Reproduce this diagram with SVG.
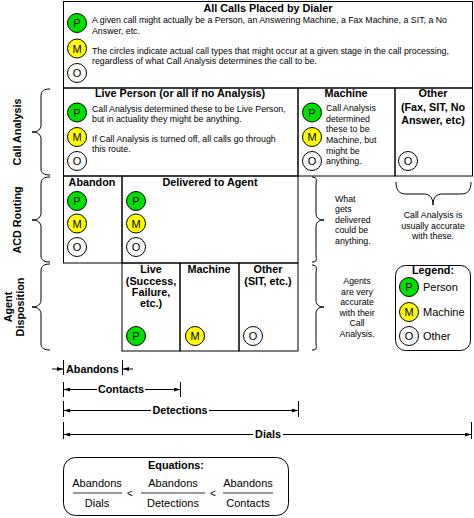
<svg xmlns="http://www.w3.org/2000/svg" width="474" height="518" viewBox="0 0 474 518">
<defs>
<style>
text{font-family:"Liberation Sans",Arial,sans-serif;fill:#000}
.b{font-weight:bold;font-size:10.8px}
.s{font-size:8.8px}
.c{font-size:11px;text-anchor:middle}
.m{text-anchor:middle}
.box{fill:none;stroke:#000;stroke-width:1}
.brace{fill:none;stroke:#000;stroke-width:1}
.cp{fill:#00e000;stroke:#000;stroke-width:1}
.cm{fill:#ffff00;stroke:#000;stroke-width:1}
.co{fill:#fff;stroke:#000;stroke-width:1}
.dim{stroke:#000;stroke-width:1;fill:none}
.frac{stroke:#999;stroke-width:2}
</style>
<marker id="ah" markerWidth="6" markerHeight="4" refX="6" refY="2" orient="auto" markerUnits="userSpaceOnUse">
<path d="M0,0 L6,2 L0,4 z" fill="#000"/>
</marker>
</defs>
<rect width="474" height="518" fill="#fff"/>

<g id="all-calls">
<rect class="box" x="63.5" y="1.5" width="409" height="86.5"/>
<text class="b m" x="268" y="12">All Calls Placed by Dialer</text>
<circle class="cp" cx="77" cy="23" r="9.5"/><text class="c" x="77" y="27">P</text>
<circle class="cm" cx="77" cy="48.5" r="9.5"/><text class="c" x="77" y="52.5">M</text>
<circle class="co" cx="77" cy="73" r="9.5"/><text class="c" x="77" y="77">O</text>
<text class="s" x="92" y="23.2">A given call might actually be a Person, an Answering Machine, a Fax Machine, a SIT, a No</text>
<text class="s" x="92" y="34.2">Answer, etc.</text>
<text class="s" x="92" y="54.2">The circles indicate actual call types that might occur at a given stage in the call processing,</text>
<text class="s" x="92" y="64.2">regardless of what Call Analysis determines the call to be.</text>
</g>

<g id="live-person">
<rect class="box" x="63.5" y="88" width="234.5" height="88"/>
<text class="b m" x="180" y="97">Live Person (or all if no Analysis)</text>
<circle class="cp" cx="77" cy="112.5" r="9.5"/><text class="c" x="77" y="116.5">P</text>
<circle class="cm" cx="77" cy="137" r="9.5"/><text class="c" x="77" y="141">M</text>
<circle class="co" cx="77" cy="161" r="9.5"/><text class="c" x="77" y="165">O</text>
<text class="s" x="92" y="111.5">Call Analysis determined these to be Live Person,</text>
<text class="s" x="92" y="121.5">but in actuality they might be anything.</text>
<text class="s" x="92" y="141.5">If Call Analysis is turned off, all calls go through</text>
<text class="s" x="92" y="151.5">this route.</text>
</g>

<g id="machine">
<rect class="box" x="298" y="88" width="97" height="88"/>
<text class="b m" x="346" y="97">Machine</text>
<circle class="cp" cx="312" cy="112.5" r="9.5"/><text class="c" x="312" y="116.5">P</text>
<circle class="cm" cx="312" cy="137" r="9.5"/><text class="c" x="312" y="141">M</text>
<circle class="co" cx="312" cy="161" r="9.5"/><text class="c" x="312" y="165">O</text>
<text class="s" x="326" y="111">Call Analysis</text>
<text class="s" x="326" y="121.7">determined</text>
<text class="s" x="326" y="132.3">these to be</text>
<text class="s" x="326" y="143">Machine, but</text>
<text class="s" x="326" y="153.7">might be</text>
<text class="s" x="326" y="164.3">anything.</text>
</g>

<g id="other">
<rect class="box" x="395" y="88" width="77.5" height="88"/>
<text class="b m" x="433" y="97">Other</text>
<text class="b m" x="433" y="111">(Fax, SIT, No</text>
<text class="b m" x="433" y="124">Answer, etc)</text>
<circle class="co" cx="408" cy="161" r="9.5"/><text class="c" x="408" y="165">O</text>
</g>

<g id="abandon">
<rect class="box" x="63.5" y="176" width="58.5" height="87"/>
<text class="b m" x="92" y="185.5">Abandon</text>
<circle class="cp" cx="77" cy="201" r="9.5"/><text class="c" x="77" y="205">P</text>
<circle class="cm" cx="77" cy="223.5" r="9.5"/><text class="c" x="77" y="227.5">M</text>
<circle class="co" cx="77" cy="247" r="9.5"/><text class="c" x="77" y="251">O</text>
</g>

<g id="delivered">
<rect class="box" x="122" y="176" width="176" height="87"/>
<text class="b m" x="210" y="185.5">Delivered to Agent</text>
<circle class="cp" cx="136" cy="201" r="9.5"/><text class="c" x="136" y="205">P</text>
<circle class="cm" cx="136" cy="223.5" r="9.5"/><text class="c" x="136" y="227.5">M</text>
<circle class="co" cx="136" cy="247" r="9.5"/><text class="c" x="136" y="251">O</text>
</g>

<g id="disp-live">
<rect class="box" x="122" y="263" width="58" height="88"/>
<text class="b m" x="151" y="273">Live</text>
<text class="b m" x="151" y="284.5">(Success,</text>
<text class="b m" x="151" y="295.5">Failure,</text>
<text class="b m" x="151" y="306.5">etc.)</text>
<circle class="cp" cx="136" cy="336" r="9.5"/><text class="c" x="136" y="340">P</text>
</g>

<g id="disp-machine">
<rect class="box" x="180" y="263" width="59" height="88"/>
<text class="b m" x="209" y="273">Machine</text>
<circle class="cm" cx="195" cy="336" r="9.5"/><text class="c" x="195" y="340">M</text>
</g>

<g id="disp-other">
<rect class="box" x="239" y="263" width="59" height="88"/>
<text class="b m" x="268" y="273">Other</text>
<text class="b m" x="268" y="284.5">(SIT, etc.)</text>
<circle class="co" cx="253" cy="336" r="9.5"/><text class="c" x="253" y="340">O</text>
</g>

<g id="side-labels">
<text class="b m" transform="translate(21,132) rotate(-90)">Call Analysis</text>
<text class="b m" transform="translate(21,220) rotate(-90)">ACD Routing</text>
<text class="b m" transform="translate(12,307) rotate(-90)">Agent</text>
<text class="b m" transform="translate(24,307) rotate(-90)">Disposition</text>
</g>

<g id="notes">
<text class="s" x="335" y="201.5">What</text>
<text class="s" x="335" y="212">gets</text>
<text class="s" x="335" y="222.6">delivered</text>
<text class="s" x="335" y="233.2">could be</text>
<text class="s" x="335" y="243.8">anything.</text>
<text class="s m" x="433" y="218">Call Analysis is</text>
<text class="s m" x="433" y="228.7">usually accurate</text>
<text class="s m" x="433" y="239.3">with these.</text>
<text class="s m" x="357" y="284">Agents</text>
<text class="s m" x="357" y="294.6">are very</text>
<text class="s m" x="357" y="305.2">accurate</text>
<text class="s m" x="357" y="315.8">with their</text>
<text class="s m" x="357" y="326.4">Call</text>
<text class="s m" x="357" y="337">Analysis.</text>
</g>

<g id="legend">
<rect class="box" x="395.5" y="265.5" width="75" height="85" rx="10"/>
<text class="b m" x="433" y="273.5">Legend:</text>
<circle class="cp" cx="409" cy="287" r="9.5"/><text class="c" x="409" y="291">P</text>
<circle class="cm" cx="409" cy="312" r="9.5"/><text class="c" x="409" y="316">M</text>
<circle class="co" cx="409" cy="336" r="9.5"/><text class="c" x="409" y="340">O</text>
<text x="423" y="291" style="font-size:11px">Person</text>
<text x="423" y="316" style="font-size:11px">Machine</text>
<text x="423" y="340" style="font-size:11px">Other</text>
</g>

<g id="connectors">
<path class="brace" d="M50,89 C44,89 41,91 41,96 L41,125 C41,129 38,132 32,132 C38,132 41,135 41,139 L41,169 C41,173 44,175 50,175"/>
<path class="brace" d="M50,177 C44,177 41,179 41,184 L41,213 C41,217 38,220 32,220 C38,220 41,223 41,227 L41,256 C41,260 44,262 50,262"/>
<path class="brace" d="M50,264 C44,264 41,266 41,271 L41,300 C41,304 38,307 32,307 C38,307 41,310 41,314 L41,344 C41,348 44,350 50,350"/>
<path class="brace" d="M312,177 C318,177 316,181 316,186 L316,213 C316,217 318,220 324,220 C318,220 316,223 316,227 L316,254 C316,259 318,262 312,262"/>
<path class="brace" d="M312,265 C318,265 316,269 316,274 L316,300 C316,304 318,307 324,307 C318,307 316,310 316,314 L316,342 C316,347 318,350 312,350"/>
<path class="brace" d="M396,182 C396,190 399,194 406,194 L424,194 C429,194 433,197 433,205 C433,197 437,194 442,194 L461,194 C468,194 471,190 471,182"/>

<g id="dims">
<path class="dim" d="M63.5,360 V375 M122.5,360 V375"/>
<path class="dim" d="M52,369 H63" marker-end="url(#ah)"/>
<path class="dim" d="M133,369 H123" marker-end="url(#ah)"/>
<text class="b" x="66" y="373">Abandons</text>

<path class="dim" d="M63.5,382 V397 M180.5,382 V397"/>
<path class="dim" d="M97,389.5 H64" marker-end="url(#ah)"/>
<path class="dim" d="M145,389.5 H180" marker-end="url(#ah)"/>
<text class="b m" x="121" y="393.3">Contacts</text>

<path class="dim" d="M63.5,401 V417 M298.5,401 V417"/>
<path class="dim" d="M151,410.5 H64" marker-end="url(#ah)"/>
<path class="dim" d="M209,410.5 H298" marker-end="url(#ah)"/>
<text class="b m" x="180" y="414.3">Detections</text>

<path class="dim" d="M63.5,422 V439 M471.5,422 V439"/>
<path class="dim" d="M253,434.5 H64" marker-end="url(#ah)"/>
<path class="dim" d="M283,434.5 H471" marker-end="url(#ah)"/>
<text class="b m" x="268" y="438.3">Dials</text>
</g>
</g>

<g id="equations">
<rect class="box" x="63.5" y="457.5" width="225" height="58" rx="12"/>
<text class="b m" x="176" y="469">Equations:</text>
<text class="c" x="97" y="487">Abandons</text>
<line class="frac" x1="73" y1="493" x2="122" y2="493"/>
<text class="c" x="97" y="507">Dials</text>
<text class="c" x="130" y="497" style="font-size:10px">&lt;</text>
<text class="c" x="173" y="487">Abandons</text>
<line class="frac" x1="141" y1="493" x2="205" y2="493"/>
<text class="c" x="173" y="507">Detections</text>
<text class="c" x="213" y="497" style="font-size:10px">&lt;</text>
<text class="c" x="248" y="487">Abandons</text>
<line class="frac" x1="223" y1="493" x2="273" y2="493"/>
<text class="c" x="248" y="507">Contacts</text>
</g>
</svg>
